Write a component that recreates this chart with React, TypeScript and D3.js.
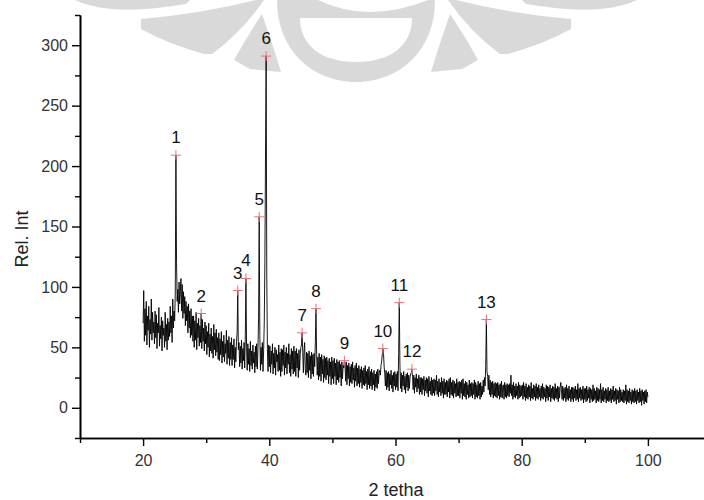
import React, { useEffect, useRef } from 'react'
import * as d3 from 'd3'

// XRD scan, sampled every 0.1 deg from 20 to 100 (2 theta), one row = 2 deg
const twoThetaStart = 20
const twoThetaStep = 0.1
const intensity = [
    70, 97, 55, 82, 60, 88, 52, 76, 64, 84, 50, 73, 61, 90, 56, 79, 62, 71, 53, 80, // 20
    58, 77, 49, 70, 62, 83, 51, 68, 57, 75, 47, 72, 60, 66, 50, 79, 55, 69, 48, 74, // 22
    56, 71, 59, 84, 62, 76, 54, 90, 66, 80, 72, 95, 209, 120, 88, 98, 79, 104, 86, 96, // 24
    107, 80, 102, 74, 96, 78, 92, 68, 88, 72, 84, 62, 86, 66, 80, 58, 82, 60, 76, 55, // 26
    76, 50, 72, 56, 79, 48, 70, 58, 74, 51, 68, 54, 78, 49, 73, 55, 66, 47, 71, 53, // 28
    68, 44, 63, 50, 70, 42, 61, 47, 66, 45, 59, 41, 69, 48, 62, 43, 65, 46, 58, 40, // 30
    62, 39, 57, 44, 63, 37, 55, 42, 60, 38, 53, 45, 64, 36, 56, 41, 59, 35, 54, 40, // 32
    58, 35, 52, 40, 57, 33, 50, 38, 55, 62, 97, 48, 54, 34, 51, 37, 56, 32, 49, 39, // 34
    54, 33, 60, 107, 50, 31, 53, 36, 49, 30, 55, 35, 47, 32, 52, 37, 46, 29, 51, 34, // 36
    53, 32, 48, 75, 158, 60, 31, 50, 36, 54, 30, 47, 70, 120, 210, 291, 110, 48, 30, 52, // 38
    34, 51, 29, 47, 36, 53, 28, 45, 33, 50, 27, 48, 38, 44, 30, 52, 31, 46, 26, 49, // 40
    30, 48, 35, 52, 27, 46, 33, 50, 28, 45, 36, 53, 29, 44, 26, 49, 32, 47, 28, 51, // 42
    30, 47, 26, 49, 33, 45, 25, 48, 31, 44, 50, 52, 62, 46, 29, 47, 54, 32, 27, 46, // 44
    29, 45, 25, 47, 31, 43, 24, 46, 28, 44, 26, 45, 34, 55, 82, 44, 27, 42, 23, 45, // 46
    26, 42, 22, 44, 28, 40, 21, 43, 25, 41, 23, 42, 27, 39, 20, 41, 26, 38, 19, 42, // 48
    24, 39, 20, 41, 26, 37, 19, 40, 23, 38, 21, 39, 25, 36, 18, 38, 24, 35, 33, 39, // 50
    36, 22, 38, 19, 35, 24, 37, 18, 34, 21, 36, 20, 38, 23, 33, 17, 35, 22, 37, 18, // 52
    33, 20, 35, 17, 32, 21, 34, 16, 31, 19, 33, 18, 35, 20, 30, 15, 32, 19, 34, 16, // 54
    30, 18, 32, 15, 29, 19, 31, 14, 28, 17, 30, 16, 32, 20, 29, 31, 27, 35, 38, 44, // 56
    49, 45, 34, 28, 18, 31, 15, 29, 17, 30, 14, 28, 19, 31, 16, 27, 13, 29, 18, 30, // 58
    15, 28, 17, 30, 14, 45, 87, 36, 16, 29, 13, 27, 18, 30, 15, 26, 12, 28, 17, 29, // 60
    14, 27, 16, 25, 28, 29, 32, 26, 15, 27, 12, 25, 17, 28, 13, 24, 16, 27, 11, 25, // 62
    13, 25, 11, 24, 15, 26, 10, 23, 14, 25, 12, 24, 9, 26, 14, 22, 11, 25, 10, 23, // 64
    12, 24, 10, 23, 14, 27, 11, 22, 9, 24, 13, 21, 10, 25, 12, 22, 8, 24, 11, 21, // 66
    11, 23, 9, 22, 13, 24, 8, 25, 11, 21, 10, 23, 8, 22, 12, 20, 9, 24, 10, 21, // 68
    10, 22, 8, 21, 12, 23, 7, 24, 10, 20, 9, 22, 7, 21, 11, 19, 8, 23, 9, 20, // 70
    10, 21, 8, 20, 11, 23, 7, 21, 9, 19, 8, 22, 10, 20, 7, 21, 9, 18, 11, 23, // 72
    13, 25, 18, 35, 73, 30, 26, 15, 27, 11, 23, 9, 21, 11, 22, 8, 20, 10, 21, 9, // 74
    20, 8, 21, 10, 19, 7, 20, 9, 22, 8, 18, 19, 7, 21, 9, 19, 8, 20, 10, 19, // 76
    9, 20, 12, 27, 10, 19, 7, 21, 9, 18, 8, 20, 10, 18, 7, 21, 8, 19, 9, 18, // 78
    10, 19, 7, 21, 9, 18, 6, 20, 8, 17, 7, 19, 9, 18, 6, 21, 8, 16, 7, 19, // 80
    9, 18, 6, 20, 8, 17, 7, 19, 9, 16, 6, 18, 8, 20, 7, 17, 9, 16, 5, 19, // 82
    8, 18, 6, 17, 9, 19, 5, 16, 8, 18, 7, 17, 6, 20, 8, 16, 7, 18, 5, 17, // 84
    8, 17, 21, 15, 7, 18, 6, 16, 8, 17, 5, 19, 7, 16, 6, 18, 8, 15, 5, 17, // 86
    7, 17, 5, 16, 8, 18, 6, 15, 7, 20, 5, 16, 8, 17, 6, 15, 7, 18, 4, 16, // 88
    7, 16, 5, 18, 6, 15, 8, 17, 4, 16, 7, 15, 5, 19, 6, 16, 7, 14, 4, 17, // 90
    6, 16, 5, 15, 7, 20, 4, 15, 6, 17, 5, 14, 7, 16, 4, 15, 6, 17, 5, 14, // 92
    6, 16, 4, 15, 7, 18, 5, 14, 6, 16, 3, 15, 7, 14, 4, 17, 5, 15, 6, 13, // 94
    5, 15, 4, 14, 6, 19, 3, 15, 5, 14, 4, 16, 6, 13, 3, 15, 5, 14, 4, 16, // 96
    5, 14, 3, 15, 6, 13, 4, 16, 5, 14, 2, 15, 6, 13, 3, 14, 5, 15, 4, 13, // 98
    9
]

const peakLabels = ['1', '2', '3', '4', '5', '6', '7', '8', '9', '10', '11', '12', '13']
const peakTwoTheta = [25.2, 29.2, 35.0, 36.3, 38.4, 39.5, 45.2, 47.4, 51.9, 58.0, 60.6, 62.6, 74.4]
const peakIntensity = [209, 78, 97, 107, 158, 291, 62, 82, 39, 49, 87, 32, 73]

const xMajorTicks = [20, 40, 60, 80, 100]
const xMinorTicks = [10, 30, 50, 70, 90]
const yMajorTicks = [0, 50, 100, 150, 200, 250, 300]
const yMinorTicks = [-25, 25, 75, 125, 175, 225, 275, 325]

const font = '"Liberation Sans", Arial, sans-serif'

const XrdChart = () => {
    const svgRef = useRef(null)

    useEffect(() => {
        const width = 704
        const height = 500
        const svg = d3.select(svgRef.current)
        svg.selectAll('*').remove()
        svg.attr('width', width).attr('height', height)

        const x = d3.scaleLinear().domain([10, 110]).range([80, 711])
        const y = d3.scaleLinear().domain([-25, 325]).range([438, 15])

        // faint logo watermark behind the plot
        const wm = svg.append('g').attr('fill', '#d9d9d9')
        const side = (g) => {
            g.append('path').attr('d', 'M75,0 Q110,17 186,4 L190,0 Z')
            g.append('path').attr('d', 'M141,19 Q200,14 256,0 L264,0 Q242,32 212,54 L204,54 Q168,44 141,29 Z')
            g.append('path').attr('d', 'M262,14 Q246,38 234,60 L250,69 L281,72 Q272,42 262,14 Z')
        }
        side(wm.append('g'))
        side(wm.append('g').attr('transform', 'translate(712,0) scale(-1,1)'))
        wm.append('path').attr('d', 'M277,0 L435,0 C435,50 400,82 356,82 C312,82 277,50 277,0 Z')
        wm.append('path').attr('fill', '#fff').attr('d', 'M300,18 L412,18 C412,46 390,62 356,62 C322,62 300,46 300,18 Z')
        wm.append('path').attr('fill', '#fff').attr('d', 'M318,0 Q368,24 428,0 Z')

        // scan trace
        const line = d3.line()
            .x((d, i) => x(twoThetaStart + i * twoThetaStep))
            .y(d => y(d))
        svg.append('path')
            .datum(intensity)
            .attr('d', line)
            .attr('fill', 'none')
            .attr('stroke', '#000')
            .attr('stroke-width', 0.9)
            .attr('stroke-linejoin', 'round')

        // axes
        const xAxis = svg.append('g').attr('transform', 'translate(0,438)')
        xAxis.call(d3.axisBottom(x).tickValues(xMajorTicks).tickSize(8).tickSizeOuter(0).tickPadding(9))
        xAxis.append('g').call(d3.axisBottom(x).tickValues(xMinorTicks).tickSize(5).tickSizeOuter(0).tickFormat(() => ''))
        const yAxis = svg.append('g').attr('transform', 'translate(80,0)')
        yAxis.call(d3.axisLeft(y).tickValues(yMajorTicks).tickSize(8).tickSizeOuter(0).tickPadding(4))
        yAxis.append('g').call(d3.axisLeft(y).tickValues(yMinorTicks).tickSize(5).tickSizeOuter(0).tickFormat(() => ''))

        svg.selectAll('.domain').attr('stroke', '#000').attr('stroke-width', 1.6)
        svg.selectAll('.tick line').attr('stroke', '#000').attr('stroke-width', 1.4)
        svg.selectAll('.tick text')
            .attr('font-family', font)
            .attr('font-size', 16)
            .attr('fill', '#333')

        // peak markers and numbers
        const peaks = peakLabels.map((label, i) => ({ label, t: peakTwoTheta[i], v: peakIntensity[i] }))
        const marks = svg.append('g')
        marks.selectAll('path')
            .data(peaks)
            .enter()
            .append('path')
            .attr('d', d => `M${x(d.t) - 5},${y(d.v)}h10M${x(d.t)},${y(d.v) - 5}v10`)
            .attr('stroke', '#e8707a')
            .attr('stroke-width', 1)
        marks.selectAll('text')
            .data(peaks)
            .enter()
            .append('text')
            .attr('x', d => x(d.t))
            .attr('y', d => y(d.v) - 12)
            .attr('text-anchor', 'middle')
            .attr('font-family', font)
            .attr('font-size', 17)
            .attr('fill', '#111')
            .text(d => d.label)

        svg.append('text')
            .attr('transform', 'translate(28,239) rotate(-90)')
            .attr('text-anchor', 'middle')
            .attr('font-family', font)
            .attr('font-size', 18)
            .attr('fill', '#222')
            .text('Rel. Int')
        svg.append('text')
            .attr('x', 396)
            .attr('y', 496)
            .attr('text-anchor', 'middle')
            .attr('font-family', font)
            .attr('font-size', 18)
            .attr('fill', '#222')
            .text('2 tetha')
    }, [])

    return (
        <svg ref={svgRef} style={{ position: 'absolute', left: 0, top: 0, background: '#fff' }}></svg>
    )
}

export default function App() {
    return <XrdChart />
}
